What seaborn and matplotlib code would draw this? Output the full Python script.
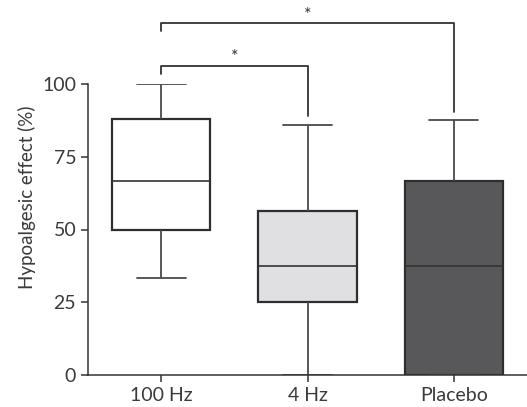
"""Hypoalgesic effect by stimulation frequency: min-max box plots with significance brackets."""

import matplotlib

matplotlib.use("Agg")
import matplotlib.pyplot as plt
import pandas as pd
import seaborn as sns

# Five-number summaries (min, Q1, median, Q3, max).
GROUPS = ["100 Hz", "4 Hz", "Placebo"]
HZ100 = [33.3, 50.0, 66.7, 88.0, 100.0]
HZ4 = [0.0, 25.0, 37.5, 56.3, 86.0]
PLACEBO = [0.0, 0.0, 37.5, 66.7, 87.5]
FILLS = ["#ffffff", "#e0e0e2", "#58585a"]
Y_TICKS = [0, 25, 50, 75, 100]

# Significance brackets: (left group, right group, bracket height, label)
BRACKETS = [(0, 1, 106.2, "*"), (0, 2, 120.8, "*")]


def main() -> None:
    sns.set_theme(style="ticks")
    plt.rcParams["font.family"] = ["Lato", "DejaVu Sans"]

    df = pd.DataFrame({
        "group": [g for g, v in zip(GROUPS, [HZ100, HZ4, PLACEBO]) for _ in v],
        "effect": HZ100 + HZ4 + PLACEBO,
    })

    fig = plt.figure(figsize=(5.27, 4.07), dpi=100)
    ax = fig.add_axes([88 / 527, 32 / 407, 439 / 527, 291 / 407])

    line_props = {"color": "#4a4a4a", "linewidth": 1.3}
    sns.boxplot(
        data=df, x="group", y="effect", hue="group", palette=FILLS,
        order=GROUPS, whis=(0, 100), width=0.67, legend=False,
        linecolor="#2e2e2e", linewidth=1.6, showfliers=False,
        whiskerprops=line_props, capprops=line_props,
        medianprops={"color": "#333333", "linewidth": 1.2}, ax=ax,
    )

    ax.set_xlim(-0.5, 2.5)
    ax.set_ylim(0, 100)
    ax.set_yticks(Y_TICKS)
    ax.spines[["top", "right"]].set_visible(False)
    for side in ["left", "bottom"]:
        ax.spines[side].set_color("#333333")
        ax.spines[side].set_linewidth(1.1)
    ax.tick_params(colors="#333333", length=5, width=1.1, labelsize=14,
                   labelcolor="#3a3a3a")
    ax.set_xlabel("")
    ax.set_ylabel("Hypoalgesic effect (%)", fontsize=13.5, color="#3a3a3a")
    # label sits a bit higher than the axis middle, as in the original
    ax.yaxis.set_label_coords(-0.118, 0.61)

    # Brackets: short tick on the left, long drop on the right down to the whisker cap.
    tops = [max(HZ100), max(HZ4), max(PLACEBO)]
    for left, right, h, label in BRACKETS:
        ax.plot([left, left, right, right],
                [h - 2.7, h, h, tops[right] + 3],
                color="#333333", lw=1.3, clip_on=False)
        ax.text((left + right) / 2, h + 0.3, label, ha="center", va="bottom",
                fontsize=13, color="#333333", clip_on=False)

    fig.savefig("out.png", dpi=100)
    plt.close(fig)


if __name__ == "__main__":
    main()
